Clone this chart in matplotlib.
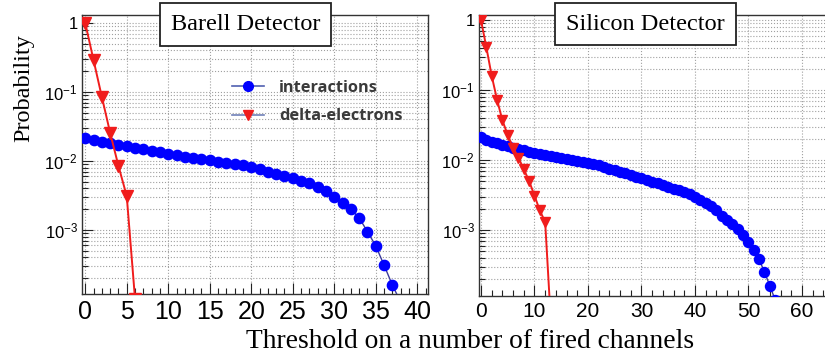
import matplotlib
matplotlib.use("Agg")
import matplotlib.pyplot as plt
from matplotlib.lines import Line2D
from matplotlib.patches import Rectangle
from matplotlib.ticker import MultipleLocator, FixedLocator, LogLocator, NullFormatter

plt.rcParams['font.family'] = ['Liberation Sans', 'DejaVu Sans']
plt.rcParams['mathtext.fontset'] = 'custom'
plt.rcParams['mathtext.rm'] = 'Liberation Sans'
plt.rcParams['mathtext.it'] = 'Liberation Sans'
plt.rcParams['mathtext.default'] = 'regular'

# ---------------- data ----------------
barrel_int_x = list(range(0, 39))
barrel_int_y = [0.0214, 0.0202, 0.0191, 0.0180, 0.0171, 0.0163, 0.0155, 0.0148, 0.0141, 0.0134,
                0.0127, 0.0121, 0.0116, 0.0111, 0.0106, 0.0102, 0.0098, 0.0094, 0.0090, 0.0087,
                0.0083, 0.0077, 0.0070, 0.0065, 0.0061, 0.0056, 0.0052, 0.0048, 0.0042, 0.0037,
                0.0030, 0.0025, 0.0020, 0.0015, 0.00095, 0.00059, 0.00031, 0.00016, 0.00009]
barrel_delta_x = [0, 1, 2, 3, 4, 5, 6]
barrel_delta_y = [1.0, 0.29, 0.085, 0.0256, 0.0085, 0.0031, 0.0001]

silicon_int_x = list(range(0, 56))
silicon_int_y = [0.0215, 0.0196, 0.0183, 0.0173, 0.0164, 0.0156, 0.0149, 0.0143, 0.0137, 0.0132,
                 0.0127, 0.0122, 0.0118, 0.0114, 0.0110, 0.0107, 0.0104, 0.0101, 0.0098, 0.0095,
                 0.0092, 0.00882, 0.00837, 0.00794, 0.00754, 0.00715, 0.00679, 0.00644, 0.00611, 0.0058,
                 0.0055, 0.0052, 0.0049, 0.00464, 0.00438, 0.00414, 0.00391, 0.0037, 0.00349, 0.0033,
                 0.0030, 0.0027, 0.0024, 0.0022, 0.0019, 0.0016, 0.0014, 0.0012, 0.00102, 0.00084,
                 0.00067, 0.00052, 0.00038, 0.00025, 0.00016, 0.0001]
silicon_delta_x = list(range(0, 14))
silicon_delta_y = [1.0, 0.41, 0.16, 0.073, 0.037, 0.0227, 0.015, 0.0108, 0.0074, 0.0050,
                   0.0031, 0.0019, 0.0013, 0.00006]

panel_titles = ["Barell Detector", "Silicon Detector"]
legend_labels = ["interactions", "delta-electrons"]
y_tick_vals = [1e-3, 1e-2, 1e-1, 1]
y_tick_labels = ["$10^{-3}$", "$10^{-2}$", "$10^{-1}$", "1"]
xlabel = "Threshold on a number of fired channels"
ylabel = "Probability"

# ---------------- style ----------------
W, H = 825, 358
BLUE = '#0000ff'
RED = '#f01c1c'
LINE_INT = '#3a3a9a'
fig = plt.figure(figsize=(W / 100, H / 100), dpi=100)

def fx(px):
    return px / W

def fy(py):
    return 1 - py / H

axL = fig.add_axes([fx(82), fy(294), fx(428 - 82), (294 - 15) / H])
axR = fig.add_axes([fx(479), fy(296), fx(826 - 479), (296 - 15) / H])

def style(ax, xlim, ylim, major, minor, xfs):
    ax.set_yscale('log')
    ax.set_xlim(*xlim)
    ax.set_ylim(*ylim)
    ax.xaxis.set_major_locator(MultipleLocator(major))
    ax.xaxis.set_minor_locator(MultipleLocator(minor))
    ax.yaxis.set_major_locator(FixedLocator(y_tick_vals))
    ax.yaxis.set_minor_locator(LogLocator(base=10, subs=range(2, 10)))
    ax.yaxis.set_minor_formatter(NullFormatter())
    ax.set_yticklabels(y_tick_labels)
    ax.tick_params(axis='both', which='major', direction='in', length=8, width=0.8,
                   top=False, right=False, color='#222222')
    ax.tick_params(axis='both', which='minor', direction='in', length=4, width=0.8,
                   top=False, right=False, color='#222222')
    ax.tick_params(axis='x', labelsize=xfs, pad=4)
    ax.tick_params(axis='y', labelsize=12, pad=3)
    ax.grid(True, which='major', axis='x', linestyle=':', color='#a0a0a0', linewidth=0.8)
    ax.grid(True, which='both', axis='y', linestyle=':', color='#a0a0a0', linewidth=0.8)
    for s in ax.spines.values():
        s.set_linewidth(1.0)
        s.set_color('#333333')
    ax.set_axisbelow(True)

style(axL, (-0.39, 41.3), (1.18e-4, 1.306), 5, 1, 18)
style(axR, (-0.37, 64.5), (1.14e-4, 1.18), 10, 2, 15)

# Barrel
axL.plot(barrel_int_x, barrel_int_y, color=LINE_INT, lw=1.0, marker='o', ms=7.4,
         mfc=BLUE, mec=BLUE, zorder=3)
axL.plot(barrel_delta_x, barrel_delta_y, color=RED, lw=1.4, marker='v', ms=8,
         mfc=RED, mec=RED, zorder=4)
# Silicon
axR.plot(silicon_int_x, silicon_int_y, color=LINE_INT, lw=1.0, marker='o', ms=7.2,
         mfc=BLUE, mec=BLUE, zorder=3)
axR.plot(silicon_delta_x, silicon_delta_y, color=RED, lw=1.4, marker='v', ms=7,
         mfc=RED, mec=RED, zorder=4)

# legend
handles = [Line2D([], [], color='#5060b0', lw=1.2, marker='o', ms=7, mfc=BLUE, mec=BLUE),
           Line2D([], [], color='#7080b8', lw=1.2, marker='v', ms=7, mfc=RED, mec=RED)]
leg = axL.legend(handles, legend_labels, loc='upper left', bbox_to_anchor=(0.39, 0.82),
                 frameon=False, handlelength=2.0, handletextpad=0.9, labelspacing=0.75,
                 prop={'family': 'Open Sans', 'weight': 'bold', 'size': 11.8})
for t in leg.get_texts():
    t.set_color('#3a3a3a')

# title boxes
for (x0, x1, y0, y1), title in zip([(160, 331, 3, 46), (555, 736, 3, 45)], panel_titles):
    fig.patches.append(Rectangle((fx(x0), fy(y1)), fx(x1 - x0), (y1 - y0) / H,
                                 transform=fig.transFigure, facecolor='white',
                                 edgecolor='#222222', lw=1.3, zorder=10))
    fig.text(fx((x0 + x1) / 2), fy((y0 + y1) / 2), title, ha='center', va='center',
             family='Liberation Serif', fontsize=17.5, zorder=11)

fig.text(fx(24), fy(88), ylabel, rotation=90, ha='center', va='center',
         family='Liberation Serif', fontsize=17.5)
fig.text(fx(470), fy(341), xlabel, ha='center', va='center',
         family='Liberation Serif', fontsize=19.8)

fig.savefig('out.png', dpi=100)
